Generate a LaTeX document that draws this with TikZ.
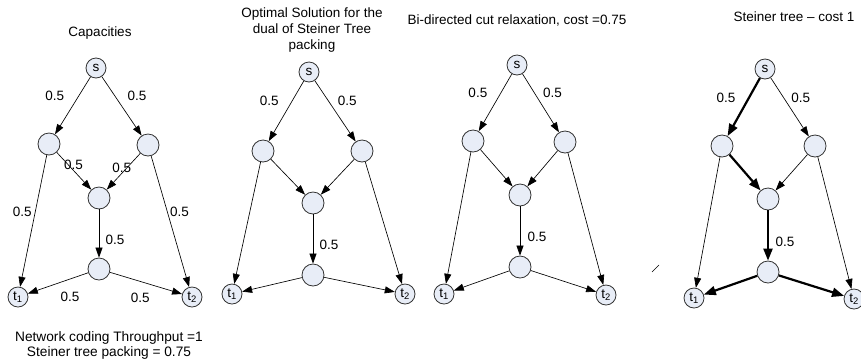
\documentclass[tikz,border=0pt]{standalone}
\usepackage{fontspec}
\setmainfont{Liberation Sans}
\usetikzlibrary{arrows.meta}
\usetikzlibrary{positioning}
\definecolor{vertexfill}{RGB}{232,237,247}
\definecolor{vertexline}{RGB}{50,50,50}

\begin{document}
\begin{tikzpicture}[
    x=1pt, y=-1pt,
    vertex/.style={circle, draw=vertexline, fill=vertexfill, line width=0.8pt, inner sep=0pt, minimum size=20pt, font=\fontsize{13.5}{15}\selectfont},
    big/.style={vertex, minimum size=22pt},
    arrow/.style={-{Triangle[length=10pt,width=7pt]}, line width=0.65pt},
    tree/.style={-{Triangle[length=12pt,width=9pt]}, line width=2.2pt},
    lbl/.style={inner sep=0pt, font=\fontsize{13.5}{16}\selectfont},
    title/.style={align=center, inner sep=0pt, font=\fontsize{13.5}{15.8}\selectfont}
]
\useasboundingbox (0,0) rectangle (861,360);

% Titles
\node[title] (cap-title) at (100,33) {Capacities};
\node[title] (dual-title) at (312,30) {Optimal Solution for the\\dual of Steiner Tree\\packing};
\node[title] (cut-title) at (517,20) {Bi-directed cut relaxation, cost =0.75};
\node[title] (tree-title) at (794,17) {Steiner tree -- cost 1};
\node[title, font=\fontsize{13.7}{15}\selectfont] (cap-note) at (109,345) {Network coding Throughput =1\\Steiner tree packing = 0.75};

% Capacities
\node[vertex] (cap-s) at (96,68) {s};
\node[big] (cap-l) at (49,144) {};
\node[big] (cap-r) at (148,145) {};
\node[big] (cap-m) at (99,198) {};
\node[big] (cap-b) at (99,269) {};
\node[vertex] (cap-t1) at (18,297) {t\textsubscript{1}};
\node[vertex] (cap-t2) at (192,297) {t\textsubscript{2}};

\draw[arrow] (cap-s) -- node[lbl, pos=.33, xshift=-24pt] {0.5} (cap-l);
\draw[arrow] (cap-s) -- node[lbl, pos=.33, xshift=22pt] {0.5} (cap-r);
\draw[arrow] (cap-l) -- node[lbl, pos=.34, xshift=5pt] {0.5} (cap-m);
\draw[arrow] (cap-r) -- node[lbl, pos=.40, xshift=-5pt] {0.5} (cap-m);
\draw[arrow] (cap-l) -- node[lbl, pos=.43, xshift=-13pt] {0.5} (cap-t1);
\draw[arrow] (cap-r) -- node[lbl, pos=.43, xshift=12pt] {0.5} (cap-t2);
\draw[arrow] (cap-m) -- node[lbl, pos=.63, xshift=16pt] {0.5} (cap-b);
\draw[arrow] (cap-b) -- node[lbl, pos=.30, yshift=-18pt] {0.5} (cap-t1);
\draw[arrow] (cap-b) -- node[lbl, pos=.42, yshift=-16pt] {0.5} (cap-t2);

% Dual solution
\node[vertex] (dual-s) at (309,72) {s};
\node[big] (dual-l) at (263,151) {};
\node[big] (dual-r) at (362,151) {};
\node[big] (dual-m) at (313,203) {};
\node[big] (dual-b) at (313,275) {};
\node[vertex] (dual-t1) at (232,294) {t\textsubscript{1}};
\node[vertex] (dual-t2) at (405,294) {t\textsubscript{2}};

\draw[arrow] (dual-s) -- node[lbl, pos=.33, xshift=-23pt] {0.5} (dual-l);
\draw[arrow] (dual-s) -- node[lbl, pos=.33, xshift=19pt] {0.5} (dual-r);
\draw[arrow] (dual-l) -- (dual-m);
\draw[arrow] (dual-r) -- (dual-m);
\draw[arrow] (dual-l) -- (dual-t1);
\draw[arrow] (dual-r) -- (dual-t2);
\draw[arrow] (dual-m) -- node[lbl, pos=.62, xshift=16pt] {0.5} (dual-b);
\draw[arrow] (dual-b) -- (dual-t1);
\draw[arrow] (dual-b) -- (dual-t2);

% Cut relaxation
\node[vertex] (cut-s) at (517,65) {s};
\node[big] (cut-l) at (473,141) {};
\node[big] (cut-r) at (565,142) {};
\node[big] (cut-m) at (520,195) {};
\node[big] (cut-b) at (520,267) {};
\node[vertex] (cut-t1) at (444,294) {t\textsubscript{1}};
\node[vertex] (cut-t2) at (606,295) {t\textsubscript{2}};

\draw[arrow] (cut-s) -- node[lbl, pos=.33, xshift=-23pt] {0.5} (cut-l);
\draw[arrow] (cut-s) -- node[lbl, pos=.33, xshift=18pt] {0.5} (cut-r);
\draw[arrow] (cut-l) -- (cut-m);
\draw[arrow] (cut-r) -- (cut-m);
\draw[arrow] (cut-l) -- (cut-t1);
\draw[arrow] (cut-r) -- (cut-t2);
\draw[arrow] (cut-m) -- node[lbl, pos=.62, xshift=17pt] {0.5} (cut-b);
\draw[arrow] (cut-b) -- (cut-t1);
\draw[arrow] (cut-b) -- (cut-t2);

% Steiner tree
\node[vertex] (tree-s) at (765,69) {s};
\node[big] (tree-l) at (722,146) {};
\node[big] (tree-r) at (815,146) {};
\node[big] (tree-m) at (768,199) {};
\node[big] (tree-b) at (768,272) {};
\node[vertex] (tree-t1) at (694,298) {t\textsubscript{1}};
\node[vertex] (tree-t2) at (854,299) {t\textsubscript{2}};

\draw[tree] (tree-s) -- node[lbl, pos=.34, xshift=-23pt] {0.5} (tree-l);
\draw[arrow] (tree-s) -- node[lbl, pos=.34, xshift=17pt] {0.5} (tree-r);
\draw[tree] (tree-l) -- (tree-m);
\draw[arrow] (tree-r) -- (tree-m);
\draw[arrow] (tree-l) -- (tree-t1);
\draw[arrow] (tree-r) -- (tree-t2);
\draw[tree] (tree-m) -- node[lbl, pos=.62, xshift=17pt] {0.5} (tree-b);
\draw[tree] (tree-b) -- (tree-t1);
\draw[tree] (tree-b) -- (tree-t2);

% stray tick
\coordinate (tick-a) at (652,272);
\coordinate (tick-b) at (659,265);
\draw[line width=0.6pt] (tick-a) -- (tick-b);

\end{tikzpicture}
\end{document}
